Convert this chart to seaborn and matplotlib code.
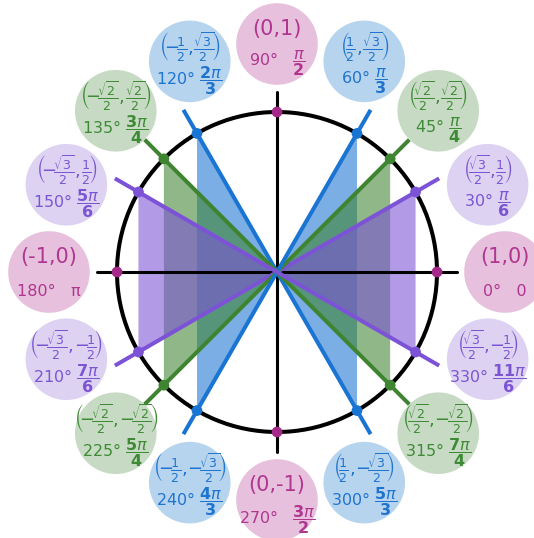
import matplotlib
matplotlib.use("Agg")
import matplotlib.pyplot as plt
import numpy as np
import pandas as pd
import seaborn as sns
from matplotlib.patches import Circle

sns.set_theme(style="white")
plt.rcParams["font.family"] = ["DejaVu Sans"]
plt.rcParams["mathtext.fontset"] = "dejavusans"

# === DATA ===
angles_deg = [0, 30, 45, 60, 90, 120, 135, 150, 180, 210, 225, 240, 270, 300, 315, 330]
groups = ["axis", "sixth", "quarter", "third", "axis", "third", "quarter", "sixth",
          "axis", "sixth", "quarter", "third", "axis", "third", "quarter", "sixth"]
coord_labels = [
    r"(1,0)",
    r"$\left(\!\frac{\sqrt{3}}{2},\!\frac{1}{2}\!\right)$",
    r"$\left(\!\frac{\sqrt{2}}{2},\!\frac{\sqrt{2}}{2}\!\right)$",
    r"$\left(\!\frac{1}{2},\!\frac{\sqrt{3}}{2}\!\right)$",
    r"(0,1)",
    r"$\left(\!{-}\!\frac{1}{2},\!\frac{\sqrt{3}}{2}\!\right)$",
    r"$\left(\!{-}\!\frac{\sqrt{2}}{2},\!\frac{\sqrt{2}}{2}\!\right)$",
    r"$\left(\!{-}\!\frac{\sqrt{3}}{2},\!\frac{1}{2}\!\right)$",
    r"(-1,0)",
    r"$\left(\!{-}\!\frac{\sqrt{3}}{2},\!{-}\!\frac{1}{2}\!\right)$",
    r"$\left(\!{-}\!\frac{\sqrt{2}}{2},\!{-}\!\frac{\sqrt{2}}{2}\!\right)$",
    r"$\left(\!{-}\!\frac{1}{2},\!{-}\!\frac{\sqrt{3}}{2}\!\right)$",
    r"(0,-1)",
    r"$\left(\!\frac{1}{2},\!{-}\!\frac{\sqrt{3}}{2}\!\right)$",
    r"$\left(\!\frac{\sqrt{2}}{2},\!{-}\!\frac{\sqrt{2}}{2}\!\right)$",
    r"$\left(\!\frac{\sqrt{3}}{2},\!{-}\!\frac{1}{2}\!\right)$",
]
radian_labels = [
    r"0", r"$\dfrac{\pi}{\mathbf{6}}$", r"$\dfrac{\pi}{\mathbf{4}}$", r"$\dfrac{\pi}{\mathbf{3}}$",
    r"$\dfrac{\pi}{\mathbf{2}}$", r"$\dfrac{\mathbf{2}\pi}{\mathbf{3}}$",
    r"$\dfrac{\mathbf{3}\pi}{\mathbf{4}}$", r"$\dfrac{\mathbf{5}\pi}{\mathbf{6}}$",
    "π", r"$\dfrac{\mathbf{7}\pi}{\mathbf{6}}$", r"$\dfrac{\mathbf{5}\pi}{\mathbf{4}}$",
    r"$\dfrac{\mathbf{4}\pi}{\mathbf{3}}$", r"$\dfrac{\mathbf{3}\pi}{\mathbf{2}}$",
    r"$\dfrac{\mathbf{5}\pi}{\mathbf{3}}$", r"$\dfrac{\mathbf{7}\pi}{\mathbf{4}}$",
    r"$\dfrac{\mathbf{11}\pi}{\mathbf{6}}$",
]
# slot of each label bubble around the circle (16 evenly spaced slots)
bubble_slots = list(range(16))
line_angles = [30, 45, 60, 120, 135, 150]
line_groups = ["sixth", "quarter", "third", "third", "quarter", "sixth"]

line_colors = {"axis": "#a4288a", "sixth": "#7c52d6", "quarter": "#3f8430", "third": "#1a74d2"}
bubble_colors = {"axis": "#e6c0dd", "sixth": "#ddd2f1", "quarter": "#c7dbc4", "third": "#b7d4ef"}
text_colors = {"axis": "#b0368f", "sixth": "#7b55d3", "quarter": "#3e8a35", "third": "#1f74cf"}

points = pd.DataFrame({"angle": angles_deg, "group": groups})
points["x"] = np.cos(np.radians(points["angle"]))
points["y"] = np.sin(np.radians(points["angle"]))

fig = plt.figure(figsize=(5.34, 5.38), dpi=100)
ax = fig.add_axes([0, 0, 1, 1])
ax.set_xlim(-1.731, 1.606)
ax.set_ylim(-1.6625, 1.7)
ax.set_aspect("equal")
ax.axis("off")

# shaded triangles (blue, green, purple)
for grp, ang in [("third", 60), ("quarter", 45), ("sixth", 30)]:
    c, s = np.cos(np.radians(ang)), np.sin(np.radians(ang))
    for sign in (1, -1):
        ax.fill([0, sign * c, sign * c], [0, s, -s], color=line_colors[grp],
                alpha=0.58, lw=0, zorder=1)

# axes
ax.plot([-1.125, 1.125], [0, 0], color="black", lw=2.2, zorder=2)
ax.plot([0, 0], [-1.125, 1.125], color="black", lw=2.2, zorder=2)

# radial lines
L = 1.17
for ang, grp in zip(line_angles, line_groups):
    c, s = np.cos(np.radians(ang)), np.sin(np.radians(ang))
    ax.plot([-L * c, L * c], [-L * s, L * s], color=line_colors[grp], lw=2.9,
            solid_capstyle="butt", zorder=3)

# unit circle
ax.add_patch(Circle((0, 0), 1, fill=False, ec="black", lw=2.9, zorder=4))

sns.scatterplot(data=points, x="x", y="y", hue="group", palette=line_colors,
                s=60, edgecolor="none", legend=False, ax=ax, zorder=5)

# label bubbles
R = 1.425
for i in range(len(angles_deg)):
    a = np.radians(bubble_slots[i] * 22.5)
    bx, by = R * np.cos(a), R * np.sin(a)
    grp = groups[i]
    ax.add_patch(Circle((bx, by), 0.255, color=bubble_colors[grp], lw=0, zorder=6))
    tc = text_colors[grp]
    is_axis = grp == "axis"
    ax.text(bx, by + 0.095, coord_labels[i], color=tc, fontsize=15 if is_axis else 13,
            ha="center", va="center", zorder=7)
    gap = "   " if is_axis else " "
    ax.text(bx, by - 0.12, f"{angles_deg[i]}°{gap}{radian_labels[i]}", color=tc,
            fontsize=11.5, ha="center", va="center", zorder=7)

fig.savefig("out.png", dpi=100)
